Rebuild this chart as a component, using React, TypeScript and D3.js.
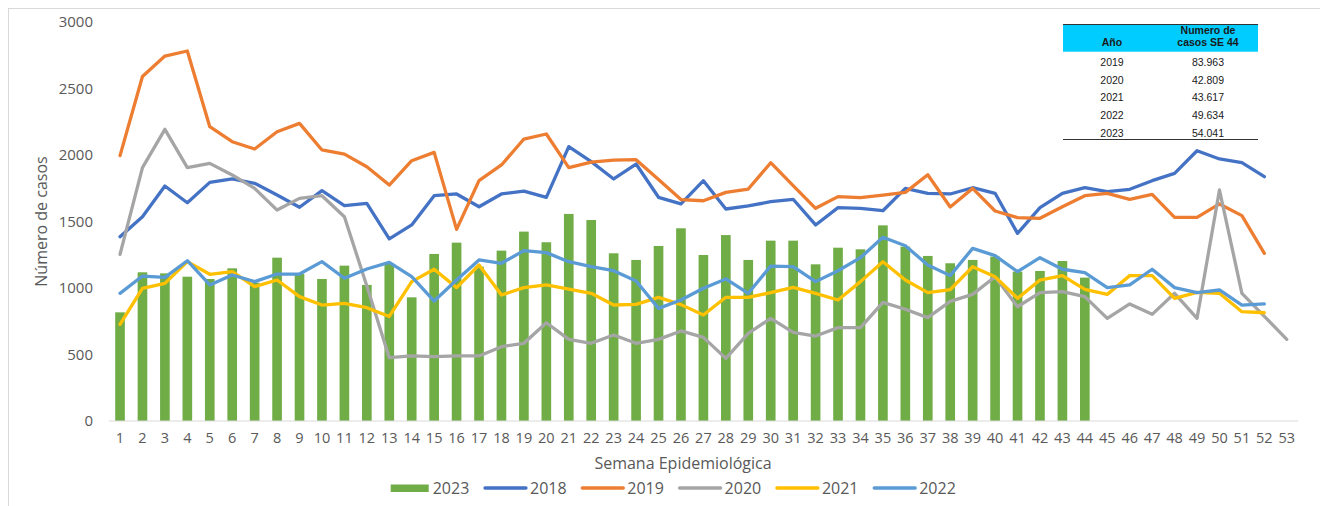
import React from "react";
import * as d3 from "d3";

const weeks: number[] = d3.range(1, 54);

const cases2023: number[] = [817,1118,1110,1085,1068,1148,1040,1228,1105,1068,1168,1023,1185,930,1256,1341,1160,1281,1424,1344,1557,1511,1261,1211,1316,1449,1248,1398,1211,1356,1356,1178,1303,1291,1471,1311,1241,1186,1211,1236,1123,1128,1203,1078];
const cases2018: number[] = [1386,1536,1767,1641,1794,1820,1787,1699,1607,1732,1619,1637,1370,1474,1694,1707,1611,1707,1729,1682,2063,1950,1820,1932,1682,1632,1807,1594,1617,1649,1667,1474,1604,1599,1581,1749,1712,1707,1754,1712,1411,1604,1712,1754,1724,1742,1807,1862,2032,1970,1942,1837];
const cases2019: number[] = [1995,2590,2744,2782,2213,2100,2045,2175,2238,2038,2007,1912,1774,1957,2020,1441,1807,1925,2120,2158,1905,1947,1962,1965,1815,1665,1656,1719,1744,1942,1769,1599,1687,1679,1699,1719,1852,1609,1749,1579,1529,1524,1611,1694,1712,1667,1704,1531,1531,1632,1544,1261];
const cases2020: number[] = [1253,1905,2193,1905,1937,1850,1749,1586,1674,1694,1536,1015,476,489,484,489,489,559,584,739,614,584,647,584,614,677,629,471,659,772,667,639,702,702,892,840,777,900,952,1085,859,965,972,935,772,880,802,960,772,1737,960,787,614];
const cases2021: number[] = [727,998,1035,1198,1103,1123,1010,1060,935,872,885,852,786,1048,1141,1003,1173,947,1003,1023,992,960,872,877,930,875,797,930,930,965,1005,960,910,1048,1198,1060,965,988,1160,1085,922,1060,1093,990,952,1093,1093,922,967,960,822,814];
const cases2022: number[] = [960,1090,1080,1205,1023,1098,1048,1105,1105,1198,1073,1143,1193,1085,902,1060,1211,1186,1281,1266,1198,1160,1130,1053,847,910,998,1068,960,1165,1160,1048,1130,1228,1381,1318,1173,1093,1298,1243,1123,1228,1141,1115,1003,1023,1141,1003,965,985,872,880];

const yTicks: number[] = [0, 500, 1000, 1500, 2000, 2500, 3000];

const tableYears: string[] = ["2019", "2020", "2021", "2022", "2023"];
const tableValues: string[] = ["83.963", "42.809", "43.617", "49.634", "54.041"];

const lineSeries = [
  { name: "2018", values: cases2018, color: "#4472C4" },
  { name: "2019", values: cases2019, color: "#ED7D31" },
  { name: "2020", values: cases2020, color: "#A5A5A5" },
  { name: "2021", values: cases2021, color: "#FFC000" },
  { name: "2022", values: cases2022, color: "#5B9BD5" },
];
const barColor = "#70AD47";

const FONT = "'Open Sans', 'Liberation Sans', sans-serif";
const TXT = "#595959";

export default function App() {
  const width = 1320;
  const height = 506;
  const x = d3.scaleBand<number>().domain(weeks).range([108.8, 1298]).padding(0);
  const y = d3.scaleLinear().domain([0, 3000]).range([421, 22]);
  const bw = x.bandwidth();
  const barW = bw * 0.43;
  const cx = (w: number) => (x(w) as number) + bw / 2;

  const line = d3
    .line<number>()
    .x((_, i) => cx(weeks[i]))
    .y((d) => y(d));

  const legendItems = [
    { name: "2023", color: barColor, bar: true, x: 390.7 },
    ...lineSeries.map((s, i) => ({ name: s.name, color: s.color, bar: false, x: 485 + i * 97.3 })),
  ];

  const tX0 = 1063;
  const tX1 = 1258;
  const rowY = (i: number) => 62.3 + i * 17.75;

  return (
    <svg width={width} height={height} style={{ position: "absolute", left: 0, top: 0, display: "block" }}>
      <rect x={0} y={0} width={width} height={height} fill="#fff" />
      <rect x={8.5} y={8.5} width={1330} height={520} fill="none" stroke="#D9D9D9" strokeWidth={1} />

      {/* y ticks */}
      {yTicks.map((t) => (
        <text key={t} x={93} y={y(t)} dy="0.35em" textAnchor="end" fontFamily={FONT} fontSize={15} fill={TXT}>
          {t}
        </text>
      ))}
      <text
        transform={`translate(41,221.5) rotate(-90)`}
        textAnchor="middle"
        dy="0.35em"
        fontFamily={FONT}
        fontSize={16}
        fill={TXT}
      >
        Número de casos
      </text>

      {/* bars */}
      {cases2023.map((v, i) => (
        <rect key={i} x={cx(weeks[i]) - barW / 2} y={y(v)} width={barW} height={y(0) - y(v)} fill={barColor} />
      ))}

      {/* x axis */}
      <line x1={108.8} x2={1298} y1={421} y2={421} stroke="#D9D9D9" strokeWidth={1.2} />
      {weeks.map((w) => (
        <text key={w} x={cx(w)} y={438} dy="0.35em" textAnchor="middle" fontFamily={FONT} fontSize={14.5} fill={TXT}>
          {w}
        </text>
      ))}
      <text x={683} y={463} dy="0.35em" textAnchor="middle" fontFamily={FONT} fontSize={16} fill={TXT}>
        Semana Epidemiológica
      </text>

      {/* lines */}
      {lineSeries.map((s) => (
        <path
          key={s.name}
          d={line(s.values) || ""}
          fill="none"
          stroke={s.color}
          strokeWidth={3.3}
          strokeLinejoin="round"
          strokeLinecap="round"
        />
      ))}

      {/* legend */}
      {legendItems.map((it) => (
        <g key={it.name}>
          {it.bar ? (
            <rect x={it.x} y={484.5} width={38} height={7.5} fill={it.color} />
          ) : (
            <line x1={it.x} x2={it.x + 41} y1={488} y2={488} stroke={it.color} strokeWidth={3.3} strokeLinecap="round" />
          )}
          <text x={it.x + (it.bar ? 42 : 45)} y={488} dy="0.35em" fontFamily={FONT} fontSize={16} fill={TXT}>
            {it.name}
          </text>
        </g>
      ))}

      {/* table */}
      <rect x={tX0} y={24} width={tX1 - tX0} height={116} fill="#fff" />
      <rect x={tX0} y={24} width={tX1 - tX0} height={27.7} fill="#00CCFF" />
      <line x1={tX0} x2={tX1} y1={24.5} y2={24.5} stroke="#333" strokeWidth={1} />
      <text x={1112} y={42.7} dy="0.35em" textAnchor="middle" fontFamily="'Liberation Sans', Arial, sans-serif" fontSize={10.5} fontWeight="bold" fill="#1a1a1a">
        Año
      </text>
      <text x={1208} y={30} dy="0.35em" textAnchor="middle" fontFamily="'Liberation Sans', Arial, sans-serif" fontSize={10.5} fontWeight="bold" fill="#1a1a1a">
        Numero de
      </text>
      <text x={1208} y={42.7} dy="0.35em" textAnchor="middle" fontFamily="'Liberation Sans', Arial, sans-serif" fontSize={10.5} fontWeight="bold" fill="#1a1a1a">
        casos SE 44
      </text>
      {tableYears.map((yr, i) => (
        <g key={yr}>
          <text x={1112} y={rowY(i)} dy="0.35em" textAnchor="middle" fontFamily="'Liberation Sans', Arial, sans-serif" fontSize={10.5} fill="#1a1a1a">
            {yr}
          </text>
          <text x={1208} y={rowY(i)} dy="0.35em" textAnchor="middle" fontFamily="'Liberation Sans', Arial, sans-serif" fontSize={10.5} fill="#1a1a1a">
            {tableValues[i]}
          </text>
        </g>
      ))}
      <line x1={tX0} x2={tX1} y1={139.5} y2={139.5} stroke="#333" strokeWidth={1} />
    </svg>
  );
}
